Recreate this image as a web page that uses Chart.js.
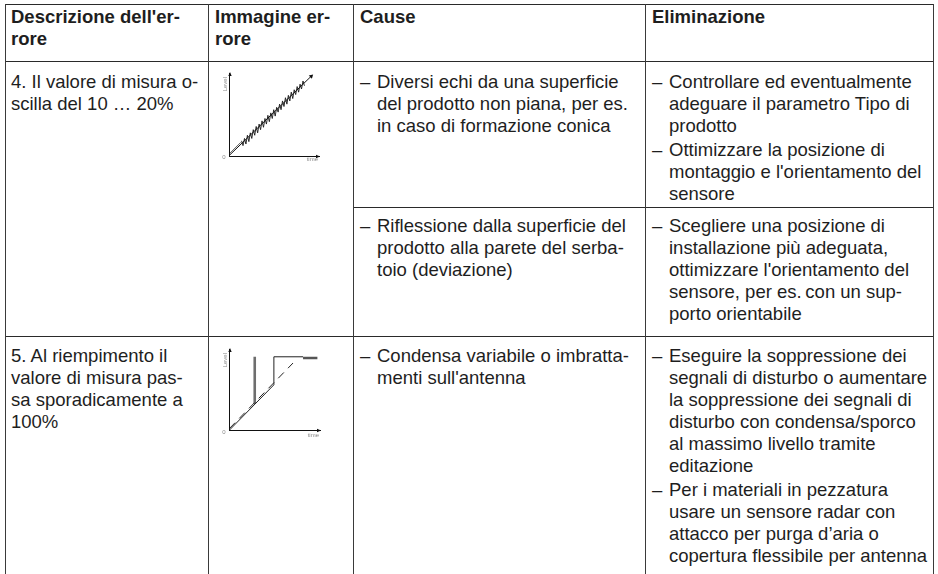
<!DOCTYPE html>
<html lang="it">
<head>
<meta charset="utf-8">
<script src="https://cdn.jsdelivr.net/npm/chart.js@4.4.1/dist/chart.umd.min.js"></script>
<style>
  html, body { margin: 0; padding: 0; background: #fff; }
  #page { position: relative; width: 938px; height: 574px; overflow: hidden;
          font-family: "Liberation Sans", Arial, Helvetica, sans-serif; font-size: 18.5px;
          line-height: 22px; color: #1e1e1e; }
  .h { position: absolute; height: 1px; background: #2a2a2a; }
  .v { position: absolute; width: 1px; background: #3a3a3a; top: 4px; height: 570px; }
  .t { position: absolute; white-space: nowrap; }
  .bold { font-weight: bold; }
  .b { position: relative; padding-left: 17px; }
  .b + .b { margin-top: 2px; }
  .b .d { position: absolute; left: 0; top: 0; }
  canvas { position: absolute; }
</style>
</head>
<body>
<div id="page">
  <!-- grid lines -->
  <div class="h" style="left:5px; width:929px; top:4px;"></div>
  <div class="h" style="left:5px; width:929px; top:61px;"></div>
  <div class="h" style="left:353px; width:581px; top:207px;"></div>
  <div class="h" style="left:5px; width:929px; top:336px;"></div>
  <div class="v" style="left:5px;"></div>
  <div class="v" style="left:208px;"></div>
  <div class="v" style="left:353px;"></div>
  <div class="v" style="left:645px;"></div>
  <div class="v" style="left:933px;"></div>

  <!-- header -->
  <div class="t bold" style="left:11px; top:6px;">Descrizione dell'er-<br>rore</div>
  <div class="t bold" style="left:215px; top:6px;">Immagine er-<br>rore</div>
  <div class="t bold" style="left:360px; top:6px;">Cause</div>
  <div class="t bold" style="left:652px; top:6px;">Eliminazione</div>

  <!-- row 4 -->
  <div class="t" style="left:11px; top:71px;">4. Il valore di misura o-<br>scilla del 10 … 20%</div>
  <div class="t" style="left:360px; top:71px;">
    <div class="b"><span class="d">–</span>Diversi echi da una superficie<br>del prodotto non piana, per es.<br>in caso di formazione conica</div>
  </div>
  <div class="t" style="left:652px; top:71px;">
    <div class="b"><span class="d">–</span>Controllare ed eventualmente<br>adeguare il parametro Tipo di<br>prodotto</div>
    <div class="b"><span class="d">–</span>Ottimizzare la posizione di<br>montaggio e l'orientamento del<br>sensore</div>
  </div>
  <div class="t" style="left:360px; top:215px;">
    <div class="b"><span class="d">–</span>Riflessione dalla superficie del<br>prodotto alla parete del serba-<br>toio (deviazione)</div>
  </div>
  <div class="t" style="left:652px; top:215px;">
    <div class="b"><span class="d">–</span>Scegliere una posizione di<br>installazione più adeguata,<br>ottimizzare l'orientamento del<br>sensore, per es.&#8201;con un sup-<br>porto orientabile</div>
  </div>

  <!-- row 5 -->
  <div class="t" style="left:11px; top:345px;">5. Al riempimento il<br>valore di misura pas-<br>sa sporadicamente a<br>100%</div>
  <div class="t" style="left:360px; top:345px;">
    <div class="b"><span class="d">–</span>Condensa variabile o imbratta-<br>menti sull'antenna</div>
  </div>
  <div class="t" style="left:652px; top:345px;">
    <div class="b"><span class="d">–</span>Eseguire la soppressione dei<br>segnali di disturbo o aumentare<br>la soppressione dei segnali di<br>disturbo con condensa/sporco<br>al massimo livello tramite<br>editazione</div>
    <div class="b"><span class="d">–</span>Per i materiali in pezzatura<br>usare un sensore radar con<br>attacco per purga d’aria o<br>copertura flessibile per antenna</div>
  </div>

  <canvas id="c1" width="114" height="104" style="left:214px; top:64px;"></canvas>
  <canvas id="c2" width="114" height="104" style="left:214px; top:340px;"></canvas>
</div>

<script>
// ---------- data (axis units 0..100 in both mini charts) ----------
const axisMax = 104;
const tickLabels = ['0'];
const xAxisTitle = 'time';
const yAxisTitle = 'Level';

// chart 1: oscillating measured value (10 ... 20 %)
const oscTrendX = [0, 95];
const oscTrendY = [1, 100];
const oscEchoX = [0, 13];
const oscEchoY = [3, 17];
const oscNoiseX = [14, 15.7, 17.4, 19.1, 20.8, 22.5, 24.2, 25.9, 27.6, 29.3, 31, 32.7, 34.4, 36.1,
                   37.8, 39.5, 41.2, 42.9, 44.6, 46.3, 48, 49.7, 51.4, 53.1, 54.8, 56.5, 58.2, 59.9,
                   61.6, 63.3, 65, 66.7, 68.4, 70.1, 71.8, 73.5, 75.2, 76.9, 78.6, 80.3, 82, 83.7,
                   85.4, 87.1];
const oscNoiseY = [19, 13, 22, 15, 26, 18, 29, 22, 33, 26, 37, 29, 40, 33,
                   44, 36, 47, 40, 51, 43, 54, 47, 58, 50, 61, 55, 65, 58,
                   69, 62, 73, 65, 76, 69, 80, 72, 83, 77, 87, 80, 90, 84,
                   94, 88];

// chart 2: value jumps sporadically to 100 % while filling
const fillMainX = [0, 51, 51, 84.5];
const fillMainY = [0, 58, 94, 94];
const fillEndX = [84.5, 101];
const fillEndY = [92.5, 92.5];
const fillSpikeX = [29, 29];
const fillSpikeY = [33.5, 94];
const fillDashX = [0, 73];
const fillDashY = [2, 86];

// ---------- helpers ----------
const pts = (xs, ys) => xs.map((x, i) => ({ x: x, y: ys[i] }));

const axisDecor = {
  id: 'axisDecor',
  afterDraw(chart, args, o) {
    const { ctx, scales: { x, y } } = chart;
    const x0 = x.getPixelForValue(0), y0 = y.getPixelForValue(0);
    const xe = x.getPixelForValue(x.max), ye = y.getPixelForValue(y.max);
    ctx.save();
    ctx.fillStyle = '#111';
    ctx.beginPath();
    ctx.moveTo(xe + 1, y0 + 0.5); ctx.lineTo(xe - 3, y0 - 1.2); ctx.lineTo(xe - 3, y0 + 2.2);
    ctx.closePath(); ctx.fill();
    ctx.beginPath();
    ctx.moveTo(x0 + 0.5, ye - 1); ctx.lineTo(x0 - 1.2, ye + 3); ctx.lineTo(x0 + 2.2, ye + 3);
    ctx.closePath(); ctx.fill();

    ctx.fillStyle = '#8a8a8a';
    ctx.font = '6px "Liberation Sans", Arial, sans-serif';
    ctx.textAlign = 'center'; ctx.textBaseline = 'middle';
    ctx.fillText(tickLabels[0], x0 - 5.5, y0 + o.zeroDy);
    ctx.textAlign = 'right';
    ctx.fillText(xAxisTitle, xe - 1, y0 + o.timeDy);
    ctx.translate(x0 - 4.5, ye + 4);
    ctx.rotate(-Math.PI / 2);
    ctx.textAlign = 'right';
    ctx.fillText(yAxisTitle, 0, 0);
    ctx.restore();
  }
};

function scaleOpts() {
  return {
    type: 'linear', min: 0, max: axisMax,
    ticks: { display: false },
    grid: { display: false, drawTicks: false },
    border: { display: true, color: '#111', width: 1 }
  };
}

function baseOptions(padding, zeroDy, timeDy) {
  return {
    responsive: false,
    animation: false,
    events: [],
    layout: { padding: padding },
    scales: { x: scaleOpts(), y: scaleOpts() },
    plugins: { legend: { display: false }, tooltip: { enabled: false },
               axisDecor: { zeroDy: zeroDy, timeDy: timeDy } },
    elements: { point: { radius: 0 }, line: { tension: 0 } }
  };
}

new Chart(document.getElementById('c1'), {
  type: 'scatter',
  data: {
    datasets: [
      { data: pts(oscNoiseX, oscNoiseY), showLine: true, borderColor: '#1a1a1a', borderWidth: 0.9, pointRadius: 0 },
      { data: pts(oscEchoX, oscEchoY), showLine: true, borderColor: '#333', borderWidth: 0.8, pointRadius: 0 },
      { data: pts(oscTrendX, oscTrendY), showLine: true, borderColor: '#111', borderWidth: 1,
        pointRadius: [0, 2.6], pointStyle: 'triangle', pointRotation: 46,
        pointBackgroundColor: '#111', pointBorderWidth: 0 }
    ]
  },
  options: baseOptions({ left: 15.5, right: 9, top: 9, bottom: 12 }, 1, 3.5),
  plugins: [axisDecor]
});

new Chart(document.getElementById('c2'), {
  type: 'scatter',
  data: {
    datasets: [
      { data: pts(fillDashX, fillDashY), showLine: true, borderColor: '#222', borderWidth: 1,
        borderDash: [8, 6], pointRadius: 0 },
      { data: pts(fillMainX, fillMainY), showLine: true, borderColor: '#222', borderWidth: 1, pointRadius: 0 },
      { data: pts(fillSpikeX, fillSpikeY), showLine: true, borderColor: '#6e6e6e', borderWidth: 2.6, pointRadius: 0 },
      { data: pts(fillEndX, fillEndY), showLine: true, borderColor: '#555', borderWidth: 2.4, pointRadius: 0 }
    ]
  },
  options: baseOptions({ left: 15.5, right: 8, top: 9, bottom: 14 }, 2.5, 5),
  plugins: [axisDecor]
});
</script>
</body>
</html>
